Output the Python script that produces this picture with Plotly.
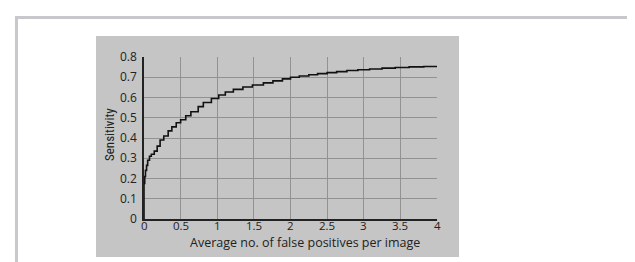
import plotly.graph_objects as go

# Step curve (FROC): x = avg false positives per image, y = sensitivity
fp = [0.0, 0.0, 0.01, 0.02, 0.035, 0.05, 0.075, 0.10, 0.14, 0.18, 0.22, 0.27, 0.33,
      0.38, 0.44, 0.50, 0.57, 0.64, 0.74, 0.81, 0.92, 1.02, 1.11, 1.22, 1.35,
      1.48, 1.63, 1.76, 1.89, 2.00, 2.12, 2.25, 2.37, 2.50, 2.63, 2.77, 2.92,
      3.08, 3.25, 3.43, 3.62, 3.82, 4.00]
sens = [0.0, 0.175, 0.21, 0.24, 0.265, 0.29, 0.31, 0.32, 0.335, 0.36, 0.39, 0.41, 0.435,
        0.455, 0.475, 0.49, 0.51, 0.53, 0.555, 0.575, 0.595, 0.612, 0.627, 0.64, 0.652,
        0.662, 0.672, 0.682, 0.692, 0.700, 0.706, 0.712, 0.718, 0.723, 0.728, 0.733, 0.737,
        0.741, 0.745, 0.748, 0.751, 0.753, 0.753]

x_ticks = [0, 0.5, 1, 1.5, 2, 2.5, 3, 3.5, 4]
x_tick_labels = ["0", "0.5", "1", "1.5", "2", "2.5", "3", "3.5", "4"]
y_ticks = [0, 0.1, 0.2, 0.3, 0.4, 0.5, 0.6, 0.7, 0.8]
y_tick_labels = ["0", "0.1", "0.2", "0.3", "0.4", "0.5", "0.6", "0.7", "0.8"]

x_title = "Average no. of false positives per image"
y_title = "Sensitivity"

W, H = 635, 262
L, R, T, B = 136, 429, 49, 211  # plot area in pixels
pw, ph = R - L, B - T

def px(xp):
    return (xp - L) / pw

def py(yp):
    return (B - yp) / ph

GREY = "#c5c5c5"
GRID = "#929292"
FONT = "Open Sans, Noto Sans, sans-serif"
TXT = "#222222"

fig = go.Figure()
fig.add_trace(go.Scatter(x=fp, y=sens, mode="lines", line=dict(color="#111111", width=1.6, shape="hv"),
                         hoverinfo="skip", showlegend=False))

shapes = [
    # grey panel
    dict(type="rect", xref="paper", yref="paper", x0=px(88), x1=px(451), y0=py(249), y1=py(28),
         fillcolor=GREY, line=dict(width=0), layer="below"),
    # page border lines (top and left)
    dict(type="line", xref="paper", yref="paper", x0=px(7), x1=px(640), y0=py(9.5), y1=py(9.5),
         line=dict(color="#c8c8cc", width=3), layer="below"),
    dict(type="line", xref="paper", yref="paper", x0=px(8.5), x1=px(8.5), y0=py(8), y1=py(270),
         line=dict(color="#c8c8cc", width=3), layer="below"),
]

annotations = [
    dict(text=x_title, xref="paper", yref="paper", x=px(297), y=py(234.5), showarrow=False,
         font=dict(family=FONT, size=12.5, color=TXT), xanchor="center", yanchor="middle", borderpad=0),
    dict(text=y_title, xref="paper", yref="paper", x=px(101), y=py(127), showarrow=False, textangle=-90,
         font=dict(family="Liberation Sans Narrow, Roboto Condensed, " + FONT, size=13, color=TXT),
         xanchor="center", yanchor="middle"),
]
# x tick labels placed close under the axis, as in the reference
for v, t in zip(x_ticks, x_tick_labels):
    annotations.append(dict(text=t, xref="x", yref="paper", x=v, y=py(217), showarrow=False,
                            font=dict(family=FONT, size=11.5, color=TXT), xanchor="center",
                            yanchor="middle", borderpad=0))

fig.update_layout(
    width=W, height=H,
    margin=dict(l=L, r=W - R, t=T, b=H - B, pad=0),
    paper_bgcolor="white", plot_bgcolor=GREY,
    shapes=shapes, annotations=annotations,
    showlegend=False,
    xaxis=dict(range=[0, 4], tickvals=x_ticks, showticklabels=False, showgrid=True, gridcolor=GRID,
               gridwidth=1, zeroline=False, showline=True, linecolor="#222222", linewidth=1.5,
               ticks="", fixedrange=True),
    yaxis=dict(range=[0, 0.8], tickvals=y_ticks, ticktext=y_tick_labels, showgrid=True, gridcolor=GRID,
               gridwidth=1, zeroline=False, showline=True, linecolor="#222222", linewidth=1.5,
               ticks="outside", ticklen=3, tickcolor="rgba(0,0,0,0)",
               tickfont=dict(family=FONT, size=12, color=TXT), fixedrange=True),
)

fig.write_html("out.html", config=dict(displayModeBar=False))
